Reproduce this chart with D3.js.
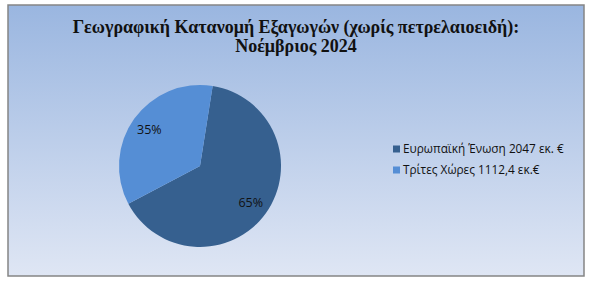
<!DOCTYPE html>
<html>
<head>
<meta charset="utf-8">
<script src="https://cdn.jsdelivr.net/npm/d3@7"></script>
<style>
  html, body { margin: 0; padding: 0; background: #fff; }
</style>
</head>
<body>
<svg id="chart" width="595" height="285"></svg>
<script>
const categories = ["Ευρωπαϊκή Ένωση 2047 εκ. €", "Τρίτες Χώρες 1112,4 εκ.€"];
const values = [2047, 1112.4];
const colors = ["#36608f", "#558ed5"];
const titleLines = ["Γεωγραφική Κατανομή Εξαγωγών (χωρίς πετρελαιοειδή):", "Νοέμβριος 2024"];

const svg = d3.select("#chart");

// background gradient
const defs = svg.append("defs");
const grad = defs.append("linearGradient")
  .attr("id", "bg").attr("x1", 0).attr("y1", 0).attr("x2", 0).attr("y2", 1);
grad.append("stop").attr("offset", "0%").attr("stop-color", "#9ab6e0");
grad.append("stop").attr("offset", "100%").attr("stop-color", "#dfe6f4");

svg.append("rect")
  .attr("x", 8).attr("y", 5)
  .attr("width", 576).attr("height", 271)
  .attr("fill", "url(#bg)")
  .attr("stroke", "#858585")
  .attr("stroke-width", 1.5);

// title
svg.append("text")
  .attr("x", 296).attr("y", 33)
  .attr("text-anchor", "middle")
  .attr("font-family", "'Liberation Serif', 'Times New Roman', serif")
  .attr("font-weight", "bold")
  .attr("font-size", "18px")
  .attr("fill", "#111")
  .selectAll("tspan")
  .data(titleLines).enter()
  .append("tspan")
  .attr("x", 296)
  .attr("dy", (d, i) => i === 0 ? 0 : 19)
  .text(d => d);

// pie
const cx = 200, cy = 166, r = 81;
const startAngle = 9 * Math.PI / 180;
const pie = d3.pie().sort(null)
  .startAngle(startAngle).endAngle(startAngle + 2 * Math.PI);
const arc = d3.arc().innerRadius(0).outerRadius(r);
const labelArc = d3.arc().innerRadius(r * 0.77).outerRadius(r * 0.77);
const total = d3.sum(values);

const g = svg.append("g").attr("transform", `translate(${cx},${cy})`);
const arcs = pie(values);

g.selectAll("path")
  .data(arcs).enter()
  .append("path")
  .attr("d", arc)
  .attr("fill", (d, i) => colors[i]);

g.selectAll("text.lbl")
  .data(arcs).enter()
  .append("text")
  .attr("class", "lbl")
  .attr("transform", d => `translate(${labelArc.centroid(d)})`)
  .attr("text-anchor", "middle")
  .attr("dy", "0.35em")
  .attr("font-family", "'Open Sans', 'Liberation Sans', sans-serif")
  .attr("font-size", "12.5px")
  .attr("fill", "#111")
  .text(d => Math.round(d.value / total * 100) + "%");

// legend
const legend = svg.append("g").attr("transform", "translate(393,149)");
const item = legend.selectAll("g")
  .data(categories).enter()
  .append("g")
  .attr("transform", (d, i) => `translate(0,${i * 21})`);

item.append("rect")
  .attr("x", 0).attr("y", -3.5)
  .attr("width", 7).attr("height", 7)
  .attr("fill", (d, i) => colors[i]);

item.append("text")
  .attr("x", 10).attr("y", 0)
  .attr("dy", "0.35em")
  .attr("font-family", "'Open Sans', 'Liberation Sans', sans-serif")
  .attr("font-size", "11.8px")
  .attr("fill", "#111")
  .text(d => d);
</script>
</body>
</html>
